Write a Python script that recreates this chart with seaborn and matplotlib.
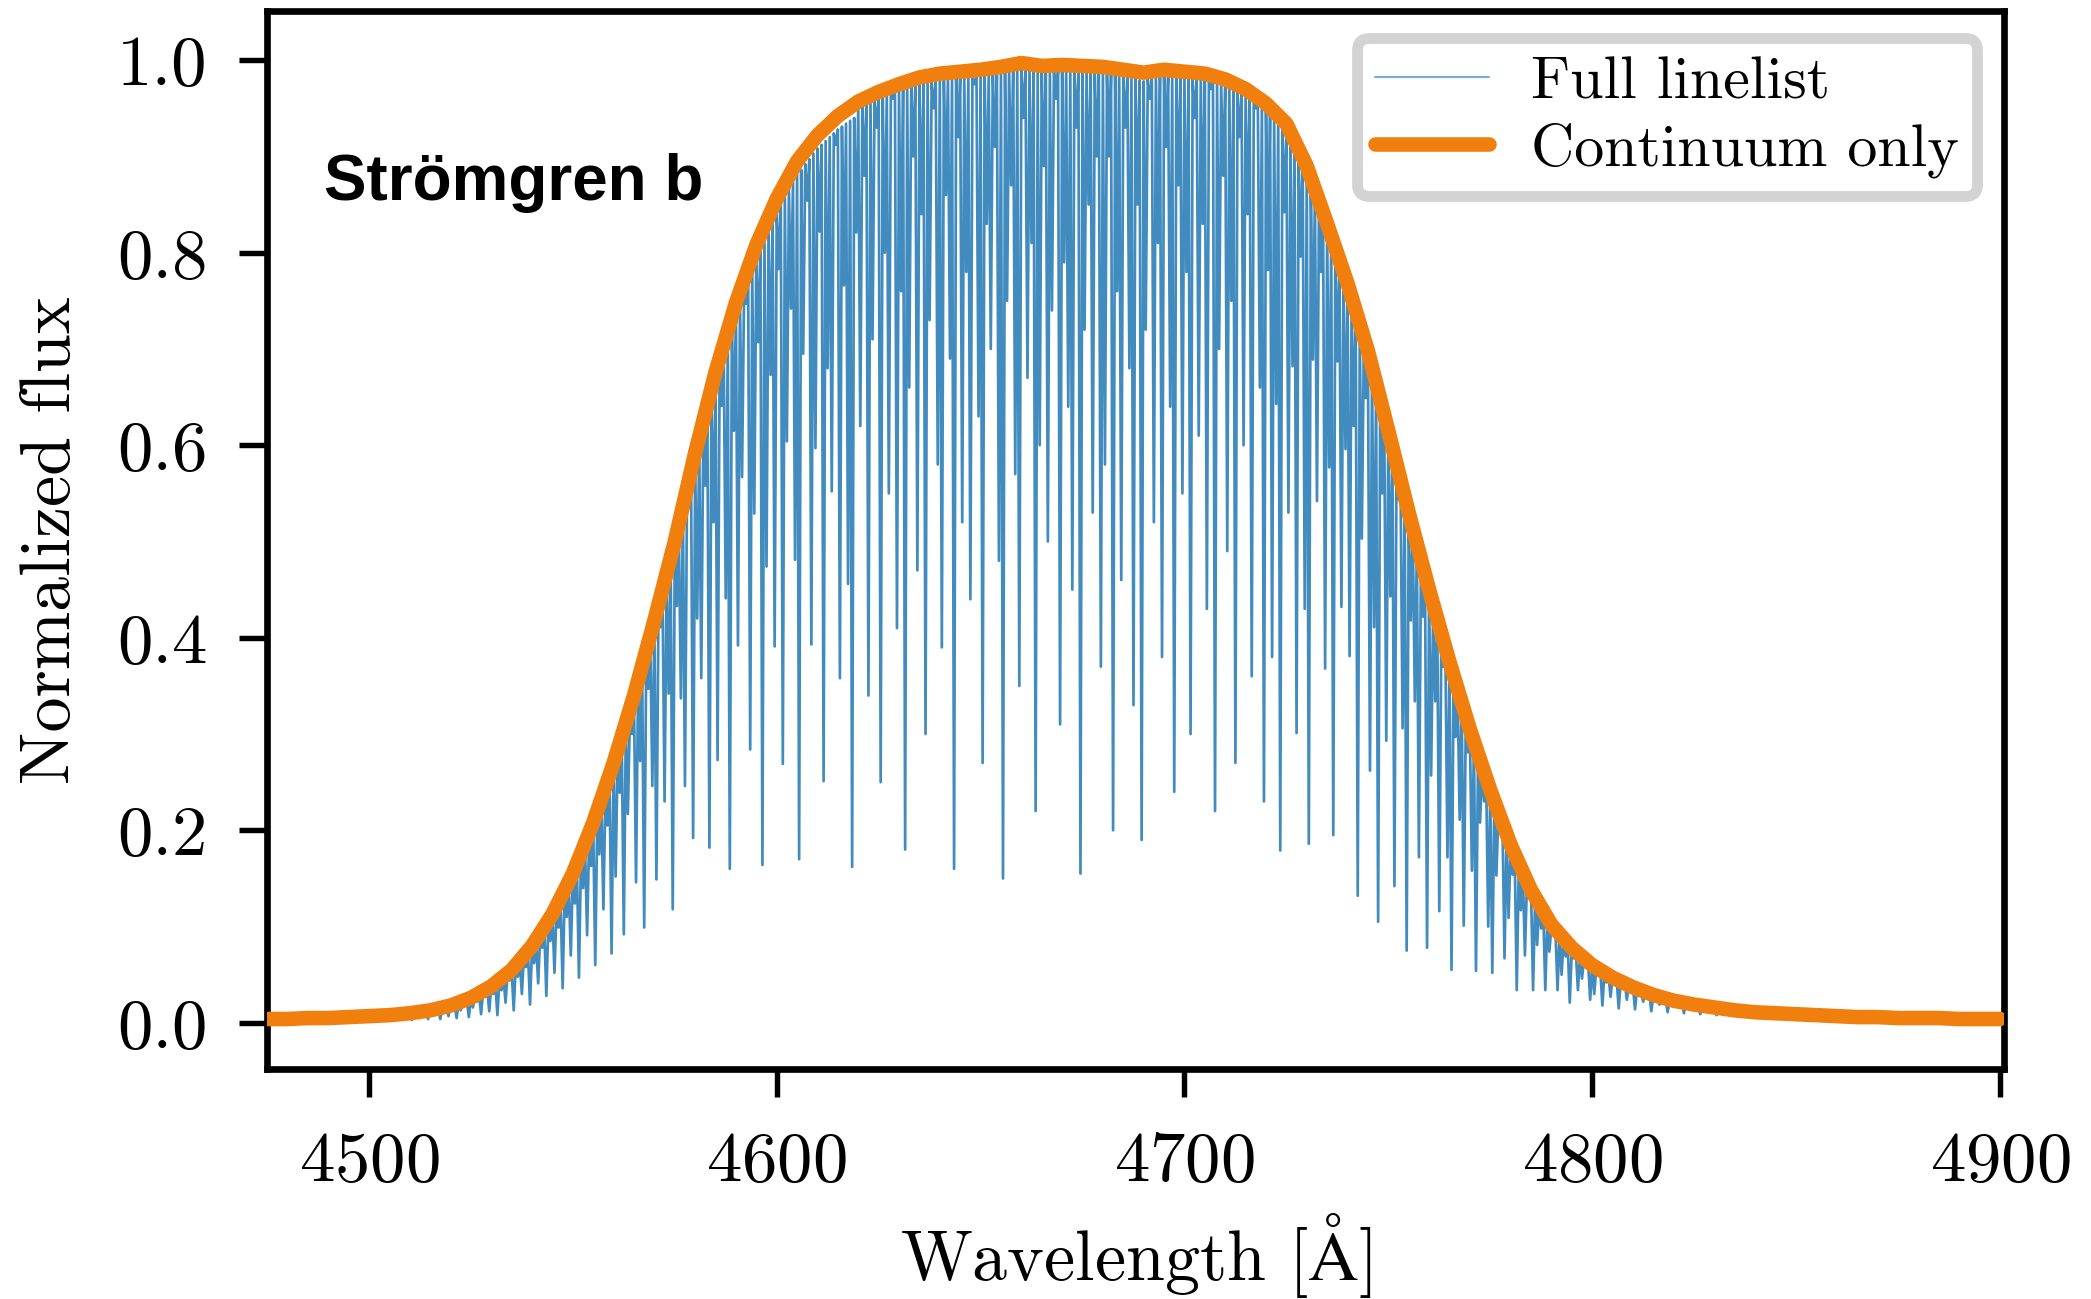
import numpy as np
import pandas as pd
import matplotlib
matplotlib.use("Agg")
import matplotlib.pyplot as plt
import seaborn as sns

# ---------------- data ----------------
# continuum-only synthetic flux through the Stromgren b filter (5 A grid)
cont_wave = np.arange(4475, 4901, 5)
cont_flux = [0.004, 0.004, 0.005, 0.005, 0.006, 0.007, 0.008, 0.010, 0.013, 0.018,
             0.026, 0.038, 0.055, 0.080, 0.113, 0.155, 0.208, 0.270, 0.340, 0.418,
             0.500, 0.592, 0.676, 0.748, 0.808, 0.856, 0.895, 0.922, 0.942, 0.957,
             0.967, 0.975, 0.982, 0.986, 0.988, 0.990, 0.993, 0.997, 0.994, 0.995,
             0.994, 0.993, 0.990, 0.987, 0.990, 0.988, 0.986, 0.980, 0.970, 0.955,
             0.934, 0.890, 0.830, 0.768, 0.698, 0.615, 0.530, 0.450, 0.375, 0.305,
             0.242, 0.185, 0.138, 0.102, 0.078, 0.060, 0.047, 0.037, 0.029, 0.023,
             0.019, 0.016, 0.013, 0.011, 0.010, 0.009, 0.008, 0.007, 0.006, 0.006,
             0.005, 0.005, 0.005, 0.004, 0.004, 0.004]

# full-linelist spectrum: local maxima (at integer A) and line minima (at +0.5 A)
top_4500 = [.007, .007, .007, .008, .008, .008, .009, .009, .009, .010,
            .010, .011, .011, .012, .012, .013, .014, .015, .016, .017,
            .018, .019, .021, .022, .024, .026, .028, .030, .033, .035,
            .038, .040, .044, .047, .051, .054, .059, .063, .069, .073,
            .079, .084, .091, .098, .104, .111, .118, .127, .135, .144,
            .152, .162, .172, .183, .193, .204, .215, .228, .240, .253]
dip_4500 = [.007, .007, .007, .008, .006, .004, .007, .003, .008, .005,
            .003, .009, .005, .010, .004, .008, .011, .004, .012, .007,
            .015, .005, .013, .018, .006, .016, .022, .009, .027, .012,
            .030, .008, .034, .021, .044, .013, .048, .030, .058, .019,
            .062, .041, .078, .028, .085, .052, .099, .036, .110, .070,
            .124, .047, .140, .091, .163, .060, .175, .118, .205, .072]

top_4560 = [.266, .280, .293, .307, .321, .335, .350, .366, .381, .396,
            .411, .428, .444, .460, .477, .492, .510, .529, .546, .565,
            .583, .600, .616, .632, .649, .666, .680, .694, .708, .722,
            .736, .748, .760, .772, .784, .795, .805, .814, .824, .833,
            .843, .851, .858, .866, .873, .881, .886, .892, .897, .903,
            .908, .912, .916, .920, .924, .928, .931, .934, .937, .940]
dip_4560 = [.152, .239, .092, .217, .300, .146, .272, .099, .347, .246,
            .149, .411, .230, .342, .118, .433, .337, .246, .536, .192,
            .420, .358, .558, .182, .520, .273, .641, .441, .160, .615,
            .392, .567, .747, .284, .529, .707, .164, .474, .673, .391,
            .783, .269, .604, .742, .481, .170, .695, .854, .393, .597,
            .822, .251, .680, .552, .912, .358, .766, .456, .162, .821]

top_4620 = [.950, .953, .955, .957, .958, .961, .963, .963, .966, .967,
            .969, .969, .972, .973, .975, .975, .977, .978, .977, .979,
            .980, .979, .981, .980, .982, .982, .981, .983, .982, .984,
            .984, .985, .984, .986, .985, .987, .988, .988, .990, .989,
            .991, .990, .990, .989, .987, .988, .988, .987, .989, .989,
            .989, .988, .988, .987, .988, .988, .987, .987, .986, .987]
dip_4620 = [.62, .88, .34, .71, .93, .25, .80, .55, .96, .41,
            .76, .18, .66, .90, .47, .84, .30, .73, .95, .58,
            .39, .86, .69, .16, .92, .52, .78, .44, .975, .63,
            .27, .83, .70, .91, .48, .15, .75, .87, .57, .35,
            .94, .67, .81, .22, .60, .89, .50, .74, .96, .31,
            .79, .64, .45, .93, .155, .72, .85, .53, .90, .37]

top_4680 = [.987, .985, .986, .984, .985, .983, .983, .981, .981, .979,
            .978, .980, .980, .982, .982, .984, .983, .983, .982, .982,
            .981, .982, .980, .981, .979, .980, .978, .978, .975, .975,
            .973, .972, .969, .968, .965, .964, .960, .958, .954, .952,
            .948, .945, .940, .936, .931, .927, .918, .910, .901, .893,
            .883, .872, .859, .848, .835, .824, .811, .799, .786, .774]
dip_4680 = [.58, .90, .20, .76, .46, .93, .68, .33, .85, .19,
            .72, .96, .52, .81, .38, .91, .64, .24, .87, .55,
            .78, .30, .94, .61, .83, .43, .97, .22, .70, .88,
            .49, .75, .27, .92, .60, .84, .36, .95, .66, .23,
            .782, .380, .643, .179, .842, .530, .682, .301, .796, .430,
            .186, .689, .542, .780, .368, .577, .195, .687, .432, .596]

top_4740 = [.761, .747, .733, .719, .705, .691, .675, .658, .642, .626,
            .609, .592, .575, .558, .542, .525, .509, .493, .477, .461,
            .446, .431, .416, .401, .386, .372, .358, .344, .330, .316,
            .302, .289, .277, .264, .252, .240, .229, .217, .206, .194,
            .183, .174, .164, .155, .146, .137, .130, .123, .115, .108,
            .101, .096, .091, .087, .082, .077, .073, .070, .066, .063]
dip_4740 = [.381, .620, .132, .503, .649, .262, .411, .105, .550, .293,
            .443, .142, .544, .306, .075, .418, .334, .172, .422, .078,
            .257, .334, .116, .370, .172, .055, .297, .211, .101, .281,
            .158, .054, .208, .230, .100, .052, .153, .201, .067, .109,
            .154, .034, .117, .070, .130, .034, .081, .098, .034, .074,
            .093, .034, .050, .069, .021, .067, .034, .046, .061, .024]

top_4800 = [.059, .057, .054, .052, .049, .047, .045, .043, .041, .039,
            .037, .035, .034, .032, .031, .029, .028, .026, .025, .024,
            .023, .022, .021, .020, .020, .019, .018, .018, .017, .017,
            .016, .015, .015, .014, .014, .013, .013, .012, .012, .011,
            .011, .011, .011, .010, .010, .010, .010, .010, .009, .009,
            .009, .009, .009, .008, .008, .008, .008, .008, .007, .007]
dip_4800 = [.030, .050, .018, .042, .027, .044, .015, .038, .024, .036,
            .014, .031, .022, .029, .012, .026, .019, .024, .011, .021,
            .017, .020, .010, .018, .014, .017, .009, .016, .012, .015,
            .008, .013, .011, .013, .008, .012, .010, .011, .007, .010,
            .009, .010, .008, .009, .009, .009, .008, .009, .008, .008,
            .008, .008, .008, .008, .008, .008, .007, .007, .007, .007]
top_4860 = [.007]

# ---------------- assemble full spectrum ----------------
tops = np.array(top_4500 + top_4560 + top_4620 + top_4680 + top_4740 + top_4800 + top_4860)
dips = np.array(dip_4500 + dip_4560 + dip_4620 + dip_4680 + dip_4740 + dip_4800)
top_wave = 4500 + np.arange(len(tops))
dip_wave = top_wave[:-1] + 0.5

full_wave = np.empty(len(tops) + len(dips))
full_flux = np.empty_like(full_wave)
full_wave[0::2] = top_wave
full_wave[1::2] = dip_wave
full_flux[0::2] = tops
full_flux[1::2] = dips

df_full = pd.DataFrame({"wave": full_wave, "flux": full_flux})
df_cont = pd.DataFrame({"wave": cont_wave, "flux": cont_flux})

# ---------------- style ----------------
sns.set_theme(style="ticks")
plt.rcParams.update({
    "font.family": ["cmr10", "DejaVu Serif"],
    "mathtext.fontset": "cm",
    "axes.formatter.use_mathtext": True,
    "axes.linewidth": 1.6,
    "xtick.major.size": 6.8,
    "ytick.major.size": 6.8,
    "xtick.major.width": 1.3,
    "ytick.major.width": 1.3,
    "xtick.major.pad": 8,
    "ytick.major.pad": 7.5,
    "xtick.labelsize": 17,
    "ytick.labelsize": 17,
    "axes.edgecolor": "black",
    "xtick.color": "black",
    "ytick.color": "black",
    "text.color": "black",
    "axes.labelcolor": "black",
})

fig = plt.figure(figsize=(2091 / 300, 1299 / 300), dpi=300)
ax = fig.add_axes([0.1277, 0.177, 0.8307, 0.8145])

sns.lineplot(data=df_full, x="wave", y="flux", ax=ax, estimator=None, sort=False,
             color="#1f77b4", lw=0.65, alpha=0.85, label="Full linelist", zorder=2)
sns.lineplot(data=df_cont, x="wave", y="flux", ax=ax, estimator=None, sort=False,
             color="#f07f0e", lw=3.5, label="Continuum only", zorder=3)

ax.set_xlim(4475, 4901)
ax.set_ylim(-0.048, 1.051)
ax.set_xticks([4500, 4600, 4700, 4800, 4900])
ax.set_yticks([0.0, 0.2, 0.4, 0.6, 0.8, 1.0])
ax.set_yticklabels(["0.0", "0.2", "0.4", "0.6", "0.8", "1.0"])

ax.set_xlabel("Wavelength [$\\mathrm{\\AA}$]", fontsize=16.8, labelpad=4)
ax.set_ylabel("Normalized flux", fontsize=16.8, labelpad=8)

ax.text(4489, 0.855, "Strömgren b", fontsize=15.3, fontweight="bold", color="black",
        family=["Liberation Sans", "DejaVu Sans"], va="baseline", ha="left")

leg = ax.legend(loc="upper right", fontsize=14.4, fancybox=True, framealpha=1,
                edgecolor="#d3d3d3", handlelength=1.9, handletextpad=0.7,
                borderaxespad=0.45, labelspacing=0.2, borderpad=0.3)
leg.get_frame().set_linewidth(2.6)
for h in leg.get_lines():
    if h.get_label() == "Full linelist":
        h.set_alpha(0.6)
        h.set_linewidth(0.5)
for s in ax.spines.values():
    s.set_visible(True)

fig.savefig("out.png", dpi=300)
